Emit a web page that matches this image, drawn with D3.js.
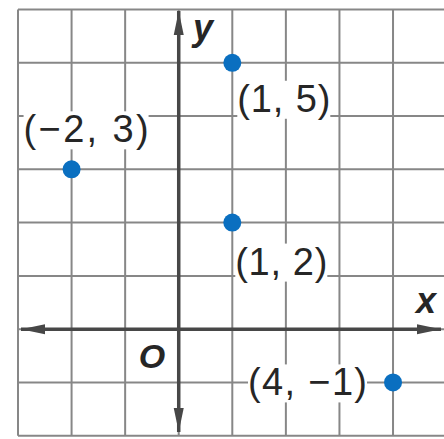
<!DOCTYPE html>
<html>
<head>
<meta charset="utf-8">
<script src="https://cdn.jsdelivr.net/npm/d3@7"></script>
<style>
	html, body { margin: 0; padding: 0; background: #fff; }
	#chart { width: 444px; height: 439px; }
	.grid_line { stroke: #878787; stroke-width: 2; }
	.axis_line { stroke: #474747; stroke-width: 3.5; }
	.axis_arrow { fill: #474747; }
	.point { fill: #0a6fc0; }
	.point_label { font-family: "Liberation Sans Narrow", "Arial Narrow", "Liberation Sans", Arial, sans-serif; font-size: 38px; fill: #262626; }
	.axis_name { font-family: "Liberation Sans", Arial, sans-serif; font-weight: bold; font-style: italic; fill: #262626; }
</style>
</head>
<body>
<div id="chart"></div>
<script>
"use strict"

// grid values
const xGridValues = [-3, -2, -1, 0, 1, 2, 3, 4, 5];
const yGridValues = [-2, -1, 0, 1, 2, 3, 4, 5, 6];

// plotted points
const pointX = [-2, 1, 1, 4];
const pointY = [3, 5, 2, -1];
const pointLabels = ["(\u22122, 3)", "(1, 5)", "(1, 2)", "(4, \u22121)"];

// axis names
const xAxisName = "x";
const yAxisName = "y";
const originName = "O";

let PlaneView = function(targetID) {
	let self = {
		targetID: targetID,
		target: null,
		totalWidth: 444,
		totalHeight: 439,
		targetSvg: null,
		xScale: d3.scaleLinear(),
		yScale: d3.scaleLinear(),
		// label offsets from the dot (left edge, baseline) and fitted width
		labelPlacement: [
			{dx: -48, dy: -27, w: 125},
			{dx: 5, dy: 49, w: 93},
			{dx: 3, dy: 52, w: 92},
			{dx: -145, dy: 13, w: 119},
		],
	}

	function draw() {
		self.target = d3.select(self.targetID);
		self.targetSvg = self.target.append("svg")
			.attr("width", self.totalWidth)
			.attr("height", self.totalHeight);

		self.xScale.domain([-3, 5]).range([18, 446.6]);
		self.yScale.domain([-2, 6]).range([435.7, 9.5]);

		let x = self.xScale, y = self.yScale;
		let svg = self.targetSvg;

		let grid = svg.append("g").attr("class", "grid");
		grid.selectAll(".v")
			.data(xGridValues)
			.enter().append("line")
				.attr("class", "grid_line v")
				.attr("x1", d => x(d)).attr("x2", d => x(d))
				.attr("y1", y(6)).attr("y2", y(-2));
		grid.selectAll(".h")
			.data(yGridValues)
			.enter().append("line")
				.attr("class", "grid_line h")
				.attr("y1", d => y(d)).attr("y2", d => y(d))
				.attr("x1", x(-3)).attr("x2", x(5));

		// axes with arrows on both ends
		let axes = svg.append("g").attr("class", "axes");
		let x0 = x(0), y0 = y(0);
		let aLen = 24, aHalf = 5;
		axes.append("line").attr("class", "axis_line")
			.attr("x1", 21).attr("x2", 441).attr("y1", y0).attr("y2", y0);
		axes.append("line").attr("class", "axis_line")
			.attr("x1", x0).attr("x2", x0).attr("y1", 11).attr("y2", 432);
		let arrows = [
			[[21, y0], [21 + aLen, y0 - aHalf], [21 + aLen, y0 + aHalf]],
			[[441, y0], [441 - aLen, y0 - aHalf], [441 - aLen, y0 + aHalf]],
			[[x0, 11], [x0 - aHalf, 11 + aLen], [x0 + aHalf, 11 + aLen]],
			[[x0, 432], [x0 - aHalf, 432 - aLen], [x0 + aHalf, 432 - aLen]],
		];
		axes.selectAll(".axis_arrow")
			.data(arrows)
			.enter().append("path")
				.attr("class", "axis_arrow")
				.attr("d", d => "M" + d.join("L") + "Z");

		axes.append("text").attr("class", "axis_name")
			.attr("x", 426).attr("y", 313)
			.attr("text-anchor", "middle")
			.style("font-size", "36px")
			.text(xAxisName);
		axes.append("text").attr("class", "axis_name")
			.attr("x", 203).attr("y", 40)
			.attr("text-anchor", "middle")
			.style("font-size", "36px")
			.text(yAxisName);
		axes.append("text").attr("class", "axis_name")
			.attr("x", 152).attr("y", 368)
			.attr("text-anchor", "middle")
			.style("font-size", "34px")
			.text(originName);

		// labels with white boxes over the grid
		let points = pointX.map((d, i) => ({x: d, y: pointY[i], label: pointLabels[i], p: self.labelPlacement[i]}));
		let labelsG = svg.append("g").attr("class", "point_labels");
		let labelG = labelsG.selectAll("g")
			.data(points)
			.enter().append("g");
		labelG.append("rect").style("fill", "#fff");
		labelG.append("text")
			.attr("class", "point_label")
			.attr("x", d => x(d.x) + d.p.dx)
			.attr("y", d => y(d.y) + d.p.dy)
			.attr("textLength", d => d.p.w)
			.attr("lengthAdjust", "spacing")
			.text(d => d.label);
		labelG.each(function() {
			let b = d3.select(this).select("text").node().getBBox();
			d3.select(this).select("rect")
				.attr("x", b.x).attr("y", b.y + 3)
				.attr("width", b.width).attr("height", b.height - 4);
		});

		svg.append("g").attr("class", "points").selectAll("circle")
			.data(points)
			.enter().append("circle")
				.attr("class", "point")
				.attr("cx", d => x(d.x))
				.attr("cy", d => y(d.y))
				.attr("r", 9);
	}

	return {
		draw,
	};
}

PlaneView("#chart").draw();
</script>
</body>
</html>
